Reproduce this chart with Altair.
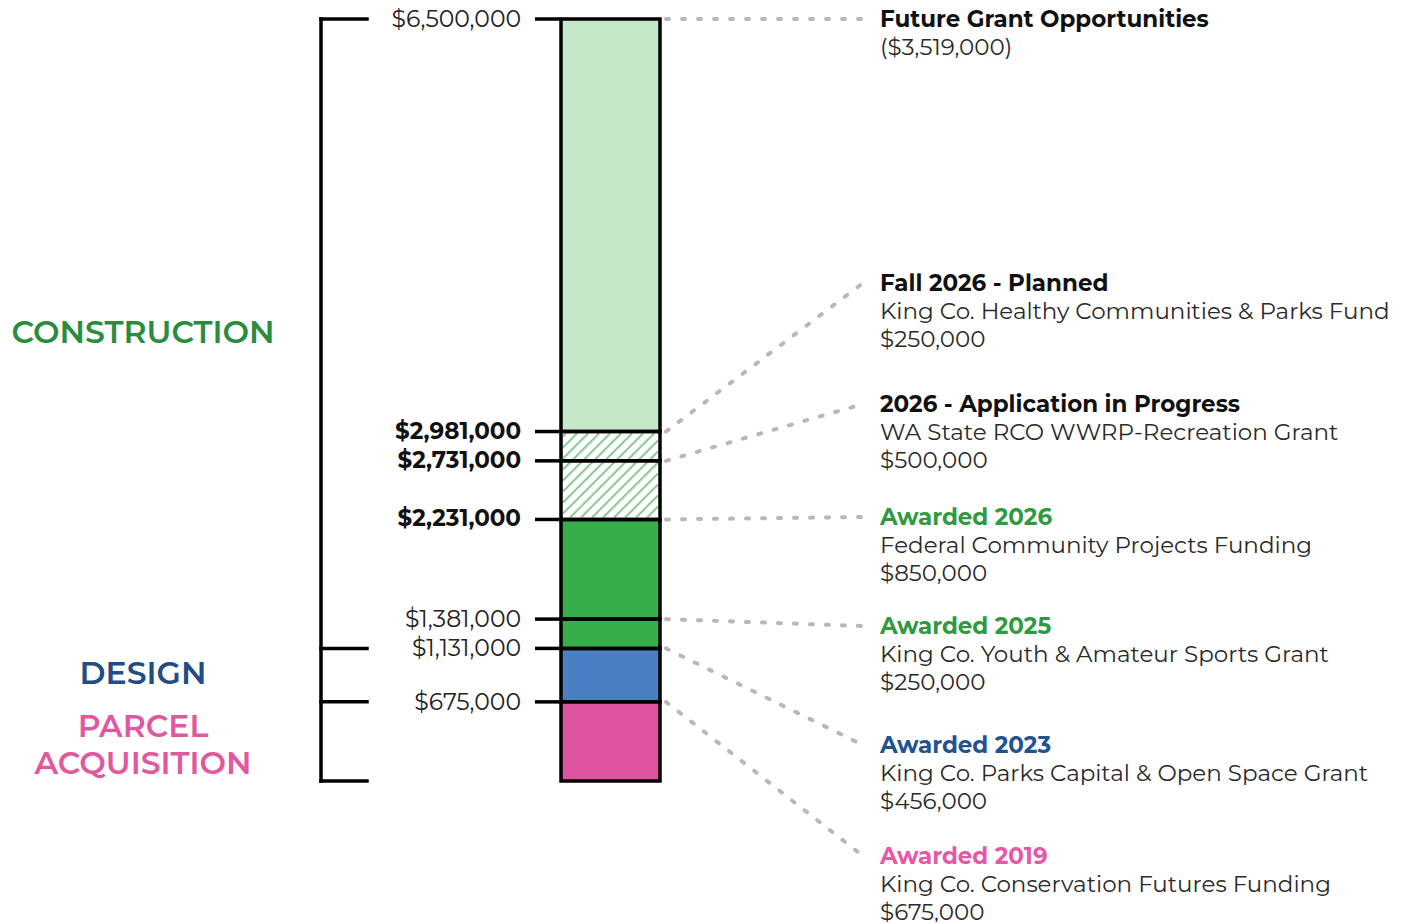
import altair as alt
import pandas as pd
import numpy as np

# ---------------- data ----------------
seg_start = [0, 675000, 1131000, 1381000, 2231000, 2731000, 2981000]
seg_end = [675000, 1131000, 1381000, 2231000, 2731000, 2981000, 6500000]
seg_fill = ["#dc539e", "#4a80c2", "#37ad4b", "#37ad4b", "#ffffff", "#ffffff", "#c5e8c8"]
seg_hatched = [False, False, False, False, True, True, False]

tick_values = [6500000, 2981000, 2731000, 2231000, 1381000, 1131000, 675000]
tick_bold = [False, True, True, True, False, False, False]

phase_names = ["CONSTRUCTION", "DESIGN", "PARCEL\nACQUISITION"]
phase_start = [1131000, 675000, 0]
phase_end = [6500000, 1131000, 675000]
phase_color = ["#2a8d3d", "#1f4d84", "#e0599f"]

ann_from = [6500000, 2981000, 2731000, 2231000, 1381000, 1131000, 675000]
ann_heading = ["Future Grant Opportunities", "Fall 2026 - Planned", "2026 - Application in Progress",
               "Awarded 2026", "Awarded 2025", "Awarded 2023", "Awarded 2019"]
ann_line2 = ["($3,519,000)", "King Co. Healthy Communities & Parks Fund", "WA State RCO WWRP-Recreation Grant",
             "Federal Community Projects Funding", "King Co. Youth & Amateur Sports Grant",
             "King Co. Parks Capital & Open Space Grant", "King Co. Conservation Futures Funding"]
ann_line3 = ["", "$250,000", "$500,000", "$850,000", "$250,000", "$456,000", "$675,000"]
ann_color = ["#111111", "#111111", "#111111", "#2f9a40", "#2f9a40", "#22528f", "#e458a7"]

# ---------------- layout (positions, not data) ----------------
W, H = 1385, 914
Y_DOMAIN = [-1202800, 6593800]
ann_anchor = [6500000, 4248000, 3216000, 2252000, 1322000, 307000, -640000]  # label heights
BRACKET_X, BRACKET_X2 = 313, 359
TICK_X, TICK_X2 = 527, 553
BAR_L, BAR_R = 553, 652
LABEL_RIGHT = 513
LEAD_X, LEAD_X2 = 658, 855
ANN_X = 872
PHASE_X = 135
FONT = "Montserrat, Inter, sans-serif"
ANN_SIZE = 23

ysc = lambda: alt.Scale(domain=Y_DOMAIN, nice=False, zero=False)


def py(v):
    return (Y_DOMAIN[1] - v) / (Y_DOMAIN[1] - Y_DOMAIN[0]) * H


def vy(p):
    return Y_DOMAIN[1] - p / H * (Y_DOMAIN[1] - Y_DOMAIN[0])


seg = pd.DataFrame({"start": seg_start, "end": seg_end, "fill": seg_fill, "hatched": seg_hatched})

# hatch lines for the hatched segments (derived from segment bounds)
hv_lo = min(s for s, h in zip(seg_start, seg_hatched) if h)
hv_hi = max(e for e, h in zip(seg_end, seg_hatched) if h)
xl, xr = BAR_L + 2, BAR_R - 2
yt, yb = py(hv_hi) + 2, py(hv_lo) - 2
rows = []
step = 11
for c in np.arange(xl + yt + 3, xr + yb, step):
    x1 = max(xl, c - yb)
    x2 = min(xr, c - yt)
    if x2 <= x1:
        continue
    rows.append({"x": x1, "x2": x2, "y": vy(c - x1), "y2": vy(c - x2)})
hatch = pd.DataFrame(rows)

ticks = pd.DataFrame({"v": tick_values, "bold": tick_bold,
                      "label": [f"${v:,}" for v in tick_values]})
phases = pd.DataFrame({"name": phase_names, "mid": [(a + b) / 2 for a, b in zip(phase_start, phase_end)],
                       "color": phase_color})
phases["multi"] = phases["name"].str.contains("\n")
bracket_pts = pd.DataFrame({"v": [0, 675000, 1131000, 6500000]})
ann = pd.DataFrame({"from": ann_from, "anchor": ann_anchor, "h": ann_heading, "l2": ann_line2,
                    "l3": ann_line3, "color": ann_color})

# ---------------- layers ----------------
fills = alt.Chart(seg).mark_rect(strokeWidth=0).encode(
    x=alt.value(BAR_L), x2=alt.value(BAR_R),
    y=alt.Y("start:Q", scale=ysc(), axis=None), y2="end:Q",
    fill=alt.Fill("fill:N", scale=None),
)

hatch_layer = alt.Chart(hatch).mark_rule(color="#8aca93", strokeWidth=2).encode(
    x=alt.X("x:Q", scale=alt.Scale(domain=[0, W], nice=False, zero=False), axis=None), x2="x2:Q",
    y=alt.Y("y:Q", scale=ysc(), axis=None), y2="y2:Q",
)

outlines = alt.Chart(seg).mark_rect(fillOpacity=0, stroke="#000000", strokeWidth=3.5).encode(
    x=alt.value(BAR_L), x2=alt.value(BAR_R),
    y=alt.Y("start:Q", scale=ysc(), axis=None), y2="end:Q",
)

tick_rules = alt.Chart(ticks).mark_rule(color="#000000", strokeWidth=3.5).encode(
    x=alt.value(TICK_X), x2=alt.value(TICK_X2), y=alt.Y("v:Q", scale=ysc(), axis=None),
)

tick_norm = alt.Chart(ticks).transform_filter("!datum.bold").mark_text(
    align="right", baseline="middle", font=FONT, fontSize=23.5, color="#222222", dy=1,
).encode(x=alt.value(LABEL_RIGHT), y=alt.Y("v:Q", scale=ysc(), axis=None), text="label:N")

tick_b = alt.Chart(ticks).transform_filter("datum.bold").mark_text(
    align="right", baseline="middle", font=FONT, fontSize=23, fontWeight="bold", color="#111111",
).encode(x=alt.value(LABEL_RIGHT), y=alt.Y("v:Q", scale=ysc(), axis=None), text="label:N")

bracket_v = alt.Chart(pd.DataFrame({"a": [min(bracket_pts.v)], "b": [max(bracket_pts.v)]})).mark_rule(
    color="#000000", strokeWidth=3.5, strokeCap="square").encode(
    x=alt.value(BRACKET_X), y=alt.Y("a:Q", scale=ysc(), axis=None), y2="b:Q")

bracket_h = alt.Chart(bracket_pts).mark_rule(color="#000000", strokeWidth=3.5, strokeCap="square").encode(
    x=alt.value(BRACKET_X), x2=alt.value(BRACKET_X2), y=alt.Y("v:Q", scale=ysc(), axis=None))

phase_single = alt.Chart(phases).transform_filter("!datum.multi").mark_text(
    align="center", baseline="middle", font=FONT, fontSize=31.5, fontWeight=600,
).encode(x=alt.value(PHASE_X), y=alt.Y("mid:Q", scale=ysc(), axis=None), text="name:N",
         color=alt.Color("color:N", scale=None))

phase_multi = alt.Chart(phases).transform_filter("datum.multi").mark_text(
    align="center", baseline="middle", font=FONT, fontSize=31.5, fontWeight=600, lineBreak="\n",
    lineHeight=37, dy=-13,
).encode(x=alt.value(PHASE_X), y=alt.Y("mid:Q", scale=ysc(), axis=None), text="name:N",
         color=alt.Color("color:N", scale=None))

leaders = alt.Chart(ann).mark_rule(color="#b8b8b8", strokeWidth=4, strokeDash=[3, 13], strokeCap="round").encode(
    x=alt.value(LEAD_X), x2=alt.value(LEAD_X2),
    y=alt.Y("from:Q", scale=ysc(), axis=None), y2="anchor:Q")

ann_h = alt.Chart(ann).mark_text(align="left", baseline="middle", font=FONT, fontSize=ANN_SIZE,
                                 fontWeight="bold", dy=1).encode(
    x=alt.value(ANN_X), y=alt.Y("anchor:Q", scale=ysc(), axis=None), text="h:N",
    color=alt.Color("color:N", scale=None))

ann_2 = alt.Chart(ann).mark_text(align="left", baseline="middle", font=FONT, fontSize=ANN_SIZE,
                                 color="#2a2a2a", dy=29).encode(
    x=alt.value(ANN_X), y=alt.Y("anchor:Q", scale=ysc(), axis=None), text="l2:N")

ann_3 = alt.Chart(ann).mark_text(align="left", baseline="middle", font=FONT, fontSize=ANN_SIZE,
                                 color="#2a2a2a", dy=57).encode(
    x=alt.value(ANN_X), y=alt.Y("anchor:Q", scale=ysc(), axis=None), text="l3:N")

chart = alt.layer(
    fills, hatch_layer, outlines, tick_rules, tick_norm, tick_b, bracket_v, bracket_h,
    phase_single, phase_multi, leaders, ann_h, ann_2, ann_3,
).properties(
    width=W, height=H, padding=0, autosize=alt.AutoSizeParams(type="none"), background="#ffffff",
).configure_view(stroke=None)

chart.save("out.html", embed_options={"renderer": "svg", "actions": False})
